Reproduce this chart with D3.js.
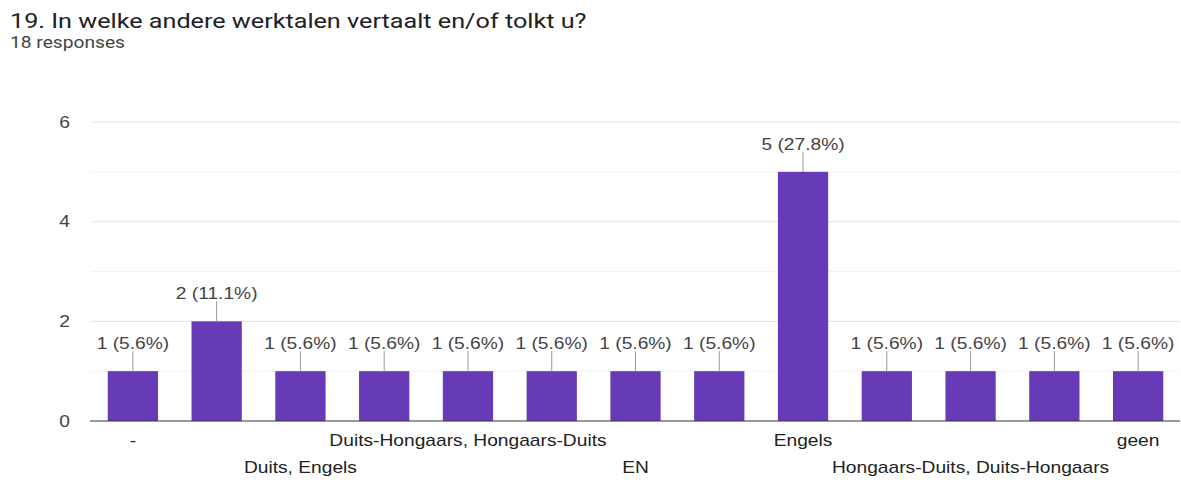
<!DOCTYPE html>
<html>
<head>
<meta charset="utf-8">
<script src="https://cdn.jsdelivr.net/npm/d3@7"></script>
<style>
  html, body { margin: 0; padding: 0; background: #fff; }
  svg { display: block; font-family: Arial, "Liberation Sans", sans-serif; }
</style>
</head>
<body>
<svg id="chart" width="1181" height="480"></svg>
<script>
// Answers to question 19 (working languages), response counts per answer
const categories = [
  "-", "Duits", "Duits, Engels", "Duits, Frans",
  "Duits-Hongaars, Hongaars-Duits", "Duits-Nederlands", "EN", "EN, FR",
  "Engels", "Frans", "Hongaars-Duits, Duits-Hongaars", "Spaans", "geen"
];
const counts = [1, 2, 1, 1, 1, 1, 1, 1, 5, 1, 1, 1, 1];
const totalResponses = 18;
const yTicks = [0, 2, 4, 6];
const yMinorTicks = [1, 3, 5];

const svg = d3.select("#chart");
const plot = { left: 91, right: 1180, top: 122, bottom: 421 };
const STRETCH = 1.2;           // glyphs are drawn slightly wide
const SANS = "Arial, 'Liberation Sans', sans-serif";

// Place a horizontally widened text at (x, y)
function wideText(parent, x, y, str, opts) {
  const t = parent.append("text")
    .attr("transform", `translate(${x},${y}) scale(${opts.stretch || STRETCH},1)`)
    .attr("font-family", opts.family || SANS)
    .attr("font-size", opts.size)
    .attr("fill", opts.fill)
    .attr("text-anchor", opts.anchor || "start")
    .text(str);
  if (opts.baseline) t.attr("dominant-baseline", opts.baseline);
  return t;
}

// Heading
wideText(svg, 10, 28, "19. In welke andere werktalen vertaalt en/of tolkt u?",
  { size: 21, fill: "#202124", family: "Roboto, Arial, sans-serif" });
wideText(svg, 10, 48, totalResponses + " responses",
  { size: 16, fill: "#444", family: "Roboto, Arial, sans-serif" });

const x = d3.scaleBand()
  .domain(categories)
  .range([plot.left, plot.right])
  .paddingInner(0.4)
  .paddingOuter(0.2);

const y = d3.scaleLinear()
  .domain([0, 6])
  .range([plot.bottom, plot.top]);

// Gridlines: minor first, then major
svg.append("g").selectAll("line")
  .data(yMinorTicks).join("line")
  .attr("x1", plot.left).attr("x2", plot.right)
  .attr("y1", d => y(d)).attr("y2", d => y(d))
  .attr("stroke", "#f3f3f3").attr("stroke-width", 1);
svg.append("g").selectAll("line")
  .data(yTicks.filter(d => d !== 0)).join("line")
  .attr("x1", plot.left).attr("x2", plot.right)
  .attr("y1", d => y(d)).attr("y2", d => y(d))
  .attr("stroke", "#e4e4e4").attr("stroke-width", 1);

// Y axis labels
const yAxis = d3.axisLeft(y).tickValues(yTicks).tickSize(0).tickPadding(0)
  .tickFormat(d3.format("d"));
svg.append("g")
  .attr("transform", "translate(70,0)")
  .call(yAxis)
  .call(g => g.select(".domain").remove())
  .call(g => g.selectAll("text")
    .attr("x", 0)
    .attr("transform", `scale(${STRETCH},1)`)
    .attr("font-family", SANS)
    .attr("font-size", 16).attr("fill", "#444"));

// Bars
svg.append("g").selectAll("rect")
  .data(categories).join("rect")
  .attr("x", d => x(d))
  .attr("y", (d, i) => y(counts[i]))
  .attr("width", x.bandwidth())
  .attr("height", (d, i) => y(0) - y(counts[i]))
  .attr("fill", "#673ab7");

// Baseline
svg.append("line")
  .attr("x1", plot.left - 1).attr("x2", plot.right)
  .attr("y1", y(0)).attr("y2", y(0))
  .attr("stroke", "#333").attr("stroke-width", 1);

// Value annotations with leader lines
const ann = svg.append("g");
categories.forEach((c, i) => {
  const cx = x(c) + x.bandwidth() / 2;
  const top = y(counts[i]);
  ann.append("line")
    .attr("x1", cx).attr("x2", cx)
    .attr("y1", top).attr("y2", top - 20)
    .attr("stroke", "#999").attr("stroke-width", 1);
  const pct = (counts[i] / totalResponses * 100).toFixed(1);
  wideText(ann, cx, top - 22, `${counts[i]} (${pct}%)`,
    { size: 16, fill: "#444", anchor: "middle" });
});

// Category labels: every other one, staggered on two rows
const xAxis = d3.axisBottom(x).tickSize(0).tickPadding(0);
const xg = svg.append("g")
  .attr("transform", `translate(0,${plot.bottom})`)
  .call(xAxis);
xg.select(".domain").remove();
xg.selectAll(".tick").each(function(d, i) {
  const t = d3.select(this);
  if (i % 2 === 1) { t.remove(); return; }
  const row = (i / 2) % 2;
  t.select("text")
    .attr("dy", null)
    .attr("y", 0)
    .attr("transform", `translate(0,${row === 0 ? 25 : 52}) scale(${STRETCH},1)`)
    .attr("font-family", SANS)
    .attr("font-size", 16).attr("fill", "#222");
});
</script>
</body>
</html>
